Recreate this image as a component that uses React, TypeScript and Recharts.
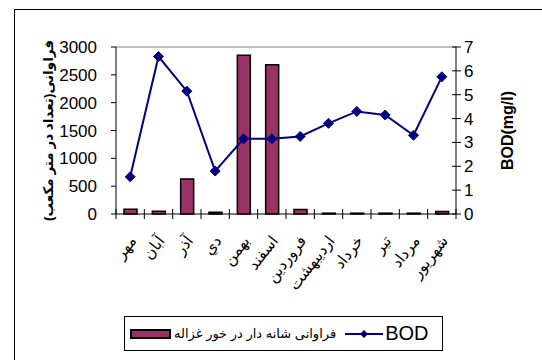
import {
  ComposedChart,
  Bar,
  Line,
  XAxis,
  YAxis,
  Legend,
  ReferenceLine,
} from 'recharts';

const months = ['مهر', 'آبان', 'آذر', 'دي', 'بهمن', 'اسفند', 'فروردين', 'ارديبهشت', 'خرداد', 'تير', 'مرداد', 'شهريور'];
const larvae = [85, 50, 630, 30, 2850, 2680, 80, 15, 15, 15, 15, 45];
const bod = [1.56, 6.6, 5.15, 1.8, 3.15, 3.15, 3.25, 3.8, 4.3, 4.15, 3.3, 5.75];
const countTicks = [0, 500, 1000, 1500, 2000, 2500, 3000];
const bodTicks = [0, 1, 2, 3, 4, 5, 6, 7];

const BAR_NAME = 'فراوانی شانه دار در خور غزاله';
const LEFT_TITLE = 'فراوانی(تعداد در متر مکعب)';
const RIGHT_TITLE = 'BOD(mg/l)';

const FONT = '"Liberation Sans", Arial, "DejaVu Sans", sans-serif';
const BAR_FILL = '#993366';
const LINE_COLOR = '#000080';

const PLOT_WIDTH = 340;
const STEP = PLOT_WIDTH / months.length;
const X_TICK_SIZE = 6;
const X_TICK_MARGIN = 2;
const R_TICK_SIZE = 5;
const R_TICK_MARGIN = 3;

const data = months.map((m, i) => ({ month: m, larvae: larvae[i], bod: bod[i] }));

// category ticks sit on the boundaries between months and cross the axis line
function MonthTick(props: any) {
  const { x, y, payload, index } = props;
  const axisY = y - X_TICK_SIZE - X_TICK_MARGIN;
  const last = index === months.length - 1;
  return (
    <g>
      <line x1={x - STEP / 2} x2={x - STEP / 2} y1={axisY - 5} y2={axisY + 5} stroke="#000" />
      {last && <line x1={x + STEP / 2} x2={x + STEP / 2} y1={axisY - 5} y2={axisY + 5} stroke="#000" />}
      <text
        transform={`translate(${x + 7},${axisY + 27}) rotate(-52)`}
        textAnchor="end"
        fontSize={15.5}
        fontFamily={FONT}
        fill="#000"
      >
        {payload.value}
      </text>
    </g>
  );
}

function BodTick(props: any) {
  const { x, y, payload } = props;
  const axisX = x - R_TICK_SIZE - R_TICK_MARGIN;
  return (
    <g>
      <line x1={axisX - 4} x2={axisX + 5} y1={y} y2={y} stroke="#000" />
      <text x={x} y={y} dy="0.355em" fontSize={17} fontFamily={FONT} fill="#000">
        {payload.value}
      </text>
    </g>
  );
}

function Diamond(props: any) {
  const { cx, cy } = props;
  if (cx == null || cy == null) return null;
  const r = 5;
  return (
    <path
      d={`M${cx},${cy - r}L${cx + r},${cy}L${cx},${cy + r}L${cx - r},${cy}Z`}
      fill={LINE_COLOR}
      stroke={LINE_COLOR}
    />
  );
}

function LegendBox() {
  return (
    <div
      style={{
        width: 317,
        height: 33,
        border: '1px solid #000',
        background: '#fff',
        display: 'flex',
        alignItems: 'center',
        fontFamily: FONT,
        color: '#000',
        boxSizing: 'content-box',
      }}
    >
      <svg width={42} height={12} style={{ marginLeft: 5 }}>
        <rect x={1} y={2} width={39} height={8} fill={BAR_FILL} stroke="#000" strokeWidth={2} />
      </svg>
      <span style={{ fontSize: 13, marginLeft: 2, whiteSpace: 'nowrap', letterSpacing: 0.3 }}>{BAR_NAME}</span>
      <svg width={40} height={12} style={{ marginLeft: 8 }}>
        <line x1={1} x2={39} y1={6} y2={6} stroke={LINE_COLOR} strokeWidth={2} />
        <path d="M20,2L24,6L20,10L16,6Z" fill={LINE_COLOR} />
      </svg>
      <span style={{ fontSize: 20, marginLeft: 1 }}>BOD</span>
    </div>
  );
}

export default function App() {
  return (
    <div style={{ position: 'absolute', left: 0, top: 0, width: 542, height: 360, overflow: 'hidden', background: '#fff' }}>
      {/* frame around the chart area */}
      <div
        style={{
          position: 'absolute',
          left: 14,
          top: 9,
          width: 600,
          height: 400,
          borderLeft: '1px solid #000',
          borderTop: '1px solid #000',
        }}
      />
      <ComposedChart
        width={542}
        height={360}
        data={data}
        margin={{ top: 47, right: 10, bottom: 10, left: 15 }}
        style={{ position: 'absolute', left: 0, top: 0 }}
      >
        <XAxis
          dataKey="month"
          xAxisId="m"
          height={136}
          interval={0}
          tickLine={false}
          tickSize={X_TICK_SIZE}
          tickMargin={X_TICK_MARGIN}
          tick={<MonthTick />}
          axisLine={{ stroke: '#000' }}
        />
        <YAxis
          yAxisId="count"
          orientation="left"
          width={101}
          domain={[0, 3000]}
          ticks={countTicks}
          interval={0}
          tickSize={5}
          tickMargin={14}
          axisLine={{ stroke: '#000' }}
          tickLine={{ stroke: '#000' }}
          tick={{ fontSize: 17, fill: '#000', fontFamily: FONT }}
          label={{
            content: (p: any) => {
              const vb = p.viewBox;
              const cy = vb.y + vb.height / 2;
              return (
                <text
                  transform={`translate(48,${cy}) rotate(-90)`}
                  textAnchor="middle"
                  dominantBaseline="central"
                  fontSize={13.5}
                  fontWeight="bold"
                  fontFamily={FONT}
                  fill="#000"
                >
                  {LEFT_TITLE}
                </text>
              );
            },
          }}
        />
        <YAxis
          yAxisId="bod"
          orientation="right"
          width={76}
          domain={[0, 7]}
          ticks={bodTicks}
          interval={0}
          tickSize={R_TICK_SIZE}
          tickMargin={R_TICK_MARGIN}
          axisLine={{ stroke: '#000' }}
          tickLine={false}
          tick={<BodTick />}
          label={{
            content: (p: any) => {
              const vb = p.viewBox;
              const cy = vb.y + vb.height / 2;
              return (
                <text
                  transform={`translate(507,${cy}) rotate(-90)`}
                  textAnchor="middle"
                  dominantBaseline="central"
                  fontSize={16}
                  fontWeight="bold"
                  fontFamily={FONT}
                  fill="#000"
                >
                  {RIGHT_TITLE}
                </text>
              );
            },
          }}
        />
        <ReferenceLine yAxisId="count" xAxisId="m" y={3000} stroke="#808080" />
        <Bar
          xAxisId="m"
          yAxisId="count"
          dataKey="larvae"
          name={BAR_NAME}
          barSize={13}
          fill={BAR_FILL}
          stroke="#000"
          strokeWidth={1.5}
          isAnimationActive={false}
        />
        <Line
          xAxisId="m"
          yAxisId="bod"
          dataKey="bod"
          name="BOD"
          type="linear"
          stroke={LINE_COLOR}
          strokeWidth={2}
          dot={<Diamond />}
          activeDot={false}
          isAnimationActive={false}
        />
        <Legend
          layout="horizontal"
          align="center"
          verticalAlign="middle"
          wrapperStyle={{ left: 124, top: 316, width: 319, height: 35 }}
          content={() => <LegendBox />}
        />
      </ComposedChart>
    </div>
  );
}
